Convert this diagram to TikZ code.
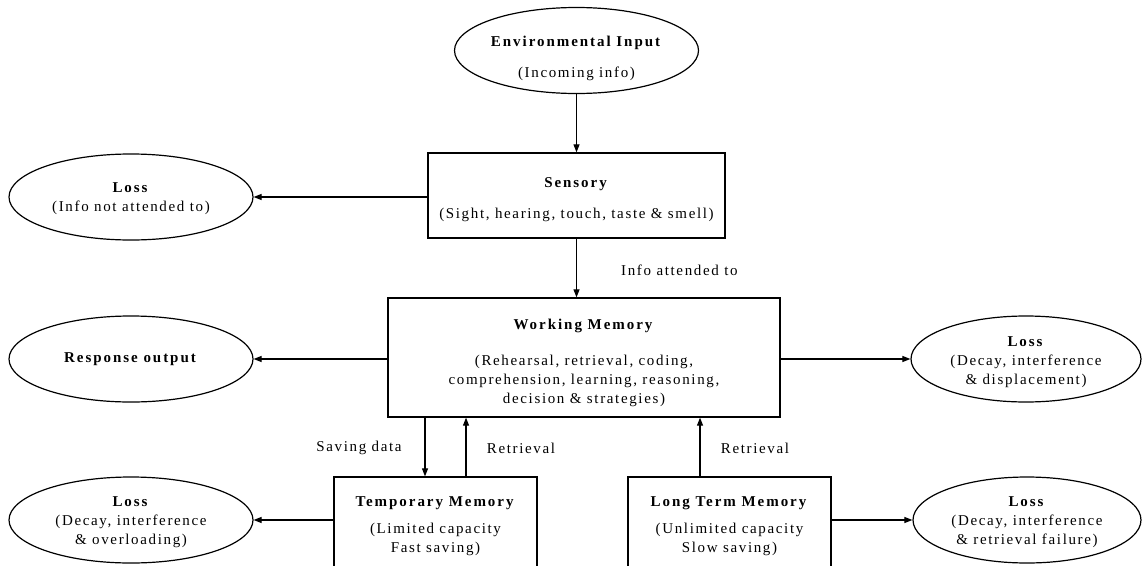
\documentclass[tikz,border=0pt]{standalone}
\usepackage{fontspec}
\setmainfont{Liberation Serif}[LetterSpace=11, BoldFeatures={LetterSpace=13}]
\usetikzlibrary{shapes.geometric,arrows.meta}
\newcommand{\fs}{\fontsize{15pt}{19pt}\selectfont}
\newcommand{\sh}[1]{\rule{0pt}{#1pt}}
\tikzset{
  every node/.style={font=\fs},
  oval/.style={draw, ellipse, line width=1.2pt, minimum width=244pt, minimum height=86pt, inner sep=0pt, align=center},
  box/.style={draw, rectangle, line width=1.3pt, inner sep=0pt, align=center},
  arr/.style={line width=1.1pt, -{Triangle[length=8pt,width=6pt]}},
  lbl/.style={inner sep=0pt}
}
\begin{document}
\begin{tikzpicture}[x=1pt,y=-1pt]
\clip (0,0) rectangle (1148,565);
\fill[white] (0,0) rectangle (1148,565);
% nodes
\node[oval] (env) at (576.5,50.5) {\sh{26}\textbf{Environmental Input}\\[11.5pt](Incoming info)};
\node[box, minimum width=297pt, minimum height=85pt] (sens) at (576.5,195.5) {\sh{18}\textbf{Sensory}\\[11.5pt](Sight, hearing, touch, taste \& smell)};
\node[oval] (loss1) at (131,197) {\sh{14}\textbf{Loss}\\(Info not attended to)};
\node[box, minimum width=392pt, minimum height=119pt] (wm) at (584,357.5) {\sh{21}\textbf{Working Memory}\\[16.5pt](Rehearsal, retrieval, coding,\\comprehension, learning, reasoning,\\decision \& strategies)};
\node[oval] (resp) at (131,359) {\textbf{Response output}};
\node[oval, minimum width=230pt] (lossR) at (1026,359) {\sh{17}\textbf{Loss}\\(Decay, interference\\\& displacement)};
\node[box, minimum width=203pt, minimum height=93pt] (tm) at (435.5,523.5) {\sh{15}\textbf{Temporary Memory}\\[8pt](Limited capacity\\Fast saving)};
\node[box, minimum width=203pt, minimum height=93pt] (ltm) at (729.5,523.5) {\sh{15}\textbf{Long Term Memory}\\[8pt](Unlimited capacity\\Slow saving)};
\node[oval] (lossTL) at (131,520) {\sh{14}\textbf{Loss}\\(Decay, interference\\\& overloading)};
\node[oval, minimum width=228pt] (lossBR) at (1027,520) {\sh{14}\textbf{Loss}\\(Decay, interference\\\& retrieval failure)};
% labels
\node[lbl, anchor=west] (lia) at (621,270) {Info attended to};
\node[lbl] (lsd) at (359,448) {Saving data};
\node[lbl] (lr1) at (521,448) {Retrieval};
\node[lbl] (lr2) at (755,448) {Retrieval};
% connectors
\coordinate (xs) at (425,0);
\coordinate (xr) at (466,0);
\coordinate (xl) at (700,0);
\draw[arr] (env.south) -- (sens.north);
\draw[arr] (sens.west |- loss1.east) -- (loss1.east);
\draw[arr] (sens.south) -- (sens.south |- wm.north);
\draw[arr] (wm.west |- resp.east) -- (resp.east);
\draw[arr] (wm.east |- lossR.west) -- (lossR.west);
\draw[arr] (xs |- wm.south) -- (xs |- tm.north);
\draw[arr] (xr |- tm.north) -- (xr |- wm.south);
\draw[arr] (xl |- ltm.north) -- (xl |- wm.south);
\draw[arr] (tm.west |- lossTL.east) -- (lossTL.east);
\draw[arr] (ltm.east |- lossBR.west) -- (lossBR.west);
\end{tikzpicture}
\end{document}
